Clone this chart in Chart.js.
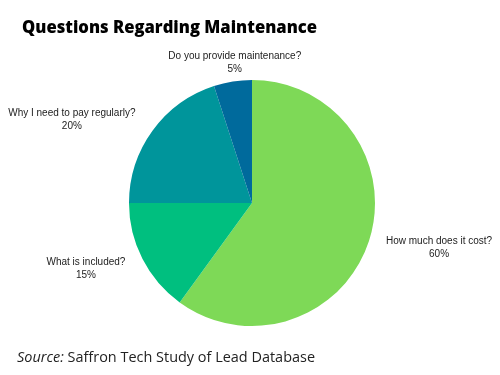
<!DOCTYPE html>
<html>
<head>
<meta charset="utf-8">
<script src="https://cdn.jsdelivr.net/npm/chart.js@4"></script>
<style>
  html, body { margin: 0; padding: 0; background: #fff; }
  #wrap { width: 500px; height: 375px; position: relative; }
</style>
</head>
<body>
<div id="wrap"><canvas id="grafico"></canvas></div>
<script>
/* dados */
const categorias = [
    "How much does it cost?",
    "What is included?",
    "Why I need to pay regularly?",
    "Do you provide maintenance?"
];
const valores = [60, 15, 20, 5];
const rotulos = ["60%", "15%", "20%", "5%"];
const cores = ["#7ed957", "#00bf7f", "#00959b", "#006a9c"];

const titulo = "Questions Regarding Maintenance";
const fonte = ["Source:", " Saffron Tech Study of Lead Database"];

/* rotulos fora das fatias */
const rotulosPlugin = {
    id: "rotulosFora",
    afterDatasetsDraw(chart) {
        const ctx = chart.ctx;
        const meta = chart.getDatasetMeta(0);
        ctx.save();
        ctx.font = "10px 'Liberation Sans', Arial, sans-serif";
        ctx.fillStyle = "#222";
        ctx.textAlign = "center";
        ctx.textBaseline = "middle";
        meta.data.forEach((arc, i) => {
            const p = arc.getProps(["x", "y", "startAngle", "endAngle", "outerRadius"], true);
            const a = (p.startAngle + p.endAngle) / 2;
            const cos = Math.cos(a), sin = Math.sin(a);
            const ly = p.y + sin * (p.outerRadius + 20);
            const largura = Math.max(ctx.measureText(categorias[i]).width, ctx.measureText(rotulos[i]).width);
            let lx = p.x + cos * p.outerRadius;
            if (Math.abs(cos) > 0.3) {
                lx += Math.sign(cos) * (17 + largura / 2);
            } else {
                lx += 2;
            }
            ctx.fillText(categorias[i], lx, ly - 6);
            ctx.fillText(rotulos[i], lx, ly + 7);
        });
        ctx.restore();
    }
};

/* titulo e fonte (texto levemente condensado) */
const textosPlugin = {
    id: "textos",
    afterDraw(chart) {
        const ctx = chart.ctx;
        ctx.save();
        ctx.fillStyle = "#000";
        ctx.textBaseline = "alphabetic";
        ctx.textAlign = "left";
        ctx.font = "800 18px 'Open Sans', sans-serif";
        ctx.fillText(titulo, 22, 33, 295);
        ctx.restore();

        ctx.save();
        ctx.fillStyle = "#222";
        ctx.textBaseline = "alphabetic";
        ctx.textAlign = "left";
        ctx.font = "italic 15px 'Open Sans', sans-serif";
        const w1 = ctx.measureText(fonte[0]).width;
        ctx.font = "15px 'Open Sans', sans-serif";
        const w2 = ctx.measureText(fonte[1]).width;
        const k = Math.min(1, 298 / (w1 + w2));
        ctx.translate(17, 362);
        ctx.scale(k, 1);
        ctx.font = "italic 15px 'Open Sans', sans-serif";
        ctx.fillText(fonte[0], 0, 0);
        ctx.font = "15px 'Open Sans', sans-serif";
        ctx.fillText(fonte[1], w1, 0);
        ctx.restore();
    }
};

new Chart(document.getElementById("grafico"), {
    type: "pie",
    data: {
        labels: categorias,
        datasets: [{
            data: valores,
            backgroundColor: cores,
            borderWidth: 0
        }]
    },
    options: {
        responsive: true,
        maintainAspectRatio: false,
        animation: false,
        layout: { padding: { top: 80, bottom: 49, left: 129, right: 125 } },
        plugins: {
            legend: { display: false },
            tooltip: { enabled: false }
        }
    },
    plugins: [rotulosPlugin, textosPlugin]
});
</script>
</body>
</html>
